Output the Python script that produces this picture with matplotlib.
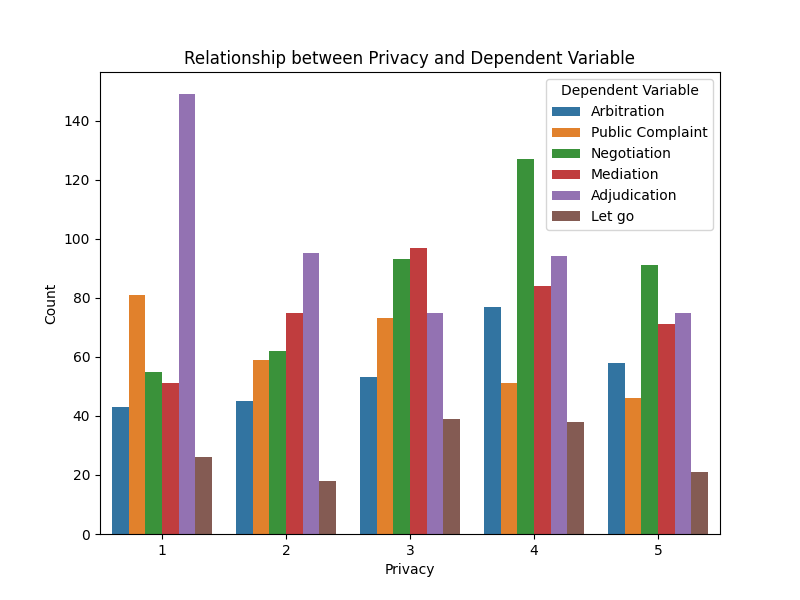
import pandas as pd
import matplotlib
matplotlib.use("Agg")
import matplotlib.pyplot as plt
import seaborn as sns

# values
privacy = [1, 2, 3, 4, 5]
arbitration = [43, 45, 53, 77, 58]
public_complaint = [81, 59, 73, 51, 46]
negotiation = [55, 62, 93, 127, 91]
mediation = [51, 75, 97, 84, 71]
adjudication = [149, 95, 75, 94, 75]
let_go = [26, 18, 39, 38, 21]

series = {
    "Arbitration": arbitration,
    "Public Complaint": public_complaint,
    "Negotiation": negotiation,
    "Mediation": mediation,
    "Adjudication": adjudication,
    "Let go": let_go,
}

rows = []
for name, vals in series.items():
    for p, v in zip(privacy, vals):
        rows.append({"Privacy": p, "Dependent Variable": name, "Count": v})
df = pd.DataFrame(rows)

fig, ax = plt.subplots(figsize=(8, 6), dpi=100)
sns.barplot(data=df, x="Privacy", y="Count", hue="Dependent Variable",
            hue_order=list(series.keys()), errorbar=None, ax=ax)
ax.set_title("Relationship between Privacy and Dependent Variable")
ax.legend(title="Dependent Variable", loc="upper right")
fig.savefig("out.png")
